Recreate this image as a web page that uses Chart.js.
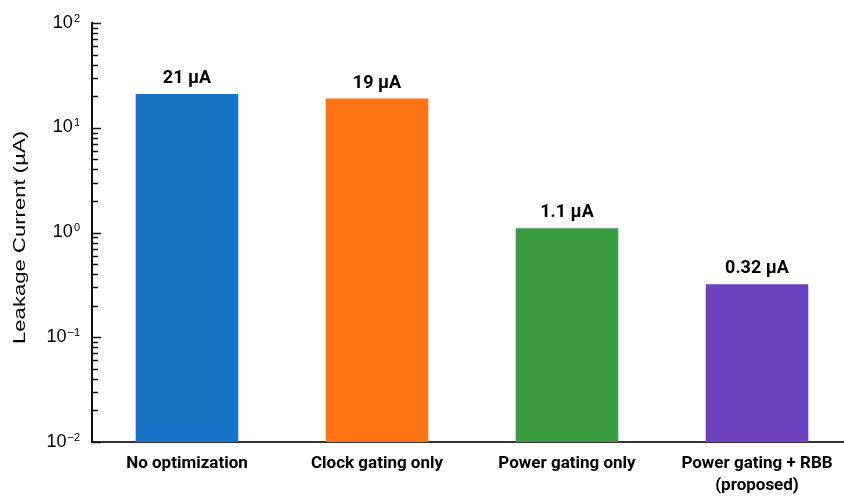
<!DOCTYPE html>
<html>
<head>
<meta charset="utf-8">
<script src="https://cdn.jsdelivr.net/npm/chart.js@4.4.1/dist/chart.umd.min.js"></script>
<style>
  html, body { margin: 0; padding: 0; background: #ffffff; overflow: hidden; }
  #wrap { width: 844px; height: 497px; overflow: hidden; position: relative; }
  canvas { display: block; }
</style>
</head>
<body>
<div id="wrap"><canvas id="chart" width="852" height="497"></canvas></div>
<script>
// Leakage current per power-management scheme (µA, log scale)
const categories = [
  ['No optimization'],
  ['Clock gating only'],
  ['Power gating only'],
  ['Power gating + RBB', '(proposed)']
];
const leakageValues = [21, 19, 1.1, 0.32];
const barColors = ['#1873c6', '#fd7416', '#3b9c42', '#6c42c1'];
const yTickExponents = [2, 1, 0, -1, -2];
const yTitle = 'Leakage Current (µA)';
const unit = 'µA';

const formatValue = v => v + ' ' + unit;

// Inward log ticks, power-of-ten labels, rotated axis title and value labels
const decorations = {
  id: 'decorations',
  afterDraw(chart) {
    const ctx = chart.ctx;
    const y = chart.scales.y;
    const area = chart.chartArea;
    const minExp = Math.min(...yTickExponents);
    const maxExp = Math.max(...yTickExponents);

    ctx.save();
    ctx.strokeStyle = '#111111';
    ctx.lineWidth = 1.5;
    for (let e = minExp; e <= maxExp; e++) {
      const steps = e === maxExp ? [1] : [1, 2, 3, 4, 5, 6, 7, 8, 9];
      for (const m of steps) {
        const py = Math.round(y.getPixelForValue(m * Math.pow(10, e))) + 0.5;
        const len = m === 1 ? 9 : 6;
        ctx.beginPath();
        ctx.moveTo(area.left, py);
        ctx.lineTo(area.left + len, py);
        ctx.stroke();
      }
    }

    // tick labels: 10 with a raised exponent
    ctx.fillStyle = '#000000';
    const baseFont = '18px "Liberation Sans", Arial, sans-serif';
    const expFont = '11px "Liberation Sans", Arial, sans-serif';
    const rightEdge = 80;
    for (const e of yTickExponents) {
      const py = y.getPixelForValue(Math.pow(10, e));
      const expText = e < 0 ? '\u2212' + Math.abs(e) : String(e);
      ctx.font = expFont;
      const wExp = ctx.measureText(expText).width;
      ctx.font = baseFont;
      const wBase = ctx.measureText('10').width;
      const x0 = rightEdge - wExp - wBase - 1;
      ctx.textAlign = 'left';
      ctx.textBaseline = 'alphabetic';
      ctx.fillText('10', x0, py + 4.5);
      ctx.font = expFont;
      ctx.fillText(expText, x0 + wBase + 1, py - 1.5);
    }

    // rotated y-axis title, drawn wide
    ctx.save();
    ctx.font = '17px "Liberation Sans", Arial, sans-serif';
    const tw = ctx.measureText(yTitle).width;
    const midY = (area.top + area.bottom) / 2 + 5;
    ctx.translate(20, midY);
    ctx.rotate(-Math.PI / 2);
    ctx.scale(213 / tw, 1);
    ctx.textAlign = 'center';
    ctx.textBaseline = 'middle';
    ctx.fillStyle = '#000000';
    ctx.fillText(yTitle, 0, 0);
    ctx.restore();

    // value labels above bars
    const meta = chart.getDatasetMeta(0);
    ctx.font = 'bold 18px Roboto, "Liberation Sans", Arial, sans-serif';
    ctx.textAlign = 'center';
    ctx.textBaseline = 'alphabetic';
    ctx.fillStyle = '#000000';
    meta.data.forEach((bar, i) => {
      ctx.fillText(formatValue(leakageValues[i]), bar.x, bar.y - 11);
    });
    ctx.restore();
  }
};

new Chart(document.getElementById('chart'), {
  type: 'bar',
  data: {
    labels: categories,
    datasets: [{
      data: leakageValues,
      backgroundColor: barColors,
      borderWidth: 0,
      barPercentage: 0.54,
      categoryPercentage: 1
    }]
  },
  options: {
    responsive: false,
    animation: false,
    devicePixelRatio: 1,
    layout: { padding: { top: 23, right: 0, bottom: 0, left: 0 } },
    plugins: {
      legend: { display: false },
      tooltip: { enabled: false }
    },
    scales: {
      x: {
        grid: { display: false, drawTicks: false },
        border: { display: true, color: '#333333', width: 2 },
        ticks: {
          color: '#000000',
          padding: 11,
          font: { family: 'Roboto, "Liberation Sans", Arial, sans-serif', size: 17, weight: 'bold', lineHeight: 1.3 },
          maxRotation: 0,
          autoSkip: false
        },
        afterFit(scale) { scale.height = 55; }
      },
      y: {
        type: 'logarithmic',
        min: 0.01,
        max: 100,
        grid: { display: false, drawTicks: false },
        border: { display: true, color: '#111111', width: 2 },
        ticks: { display: false },
        afterFit(scale) { scale.width = 92; }
      }
    }
  },
  plugins: [decorations]
});
</script>
</body>
</html>
